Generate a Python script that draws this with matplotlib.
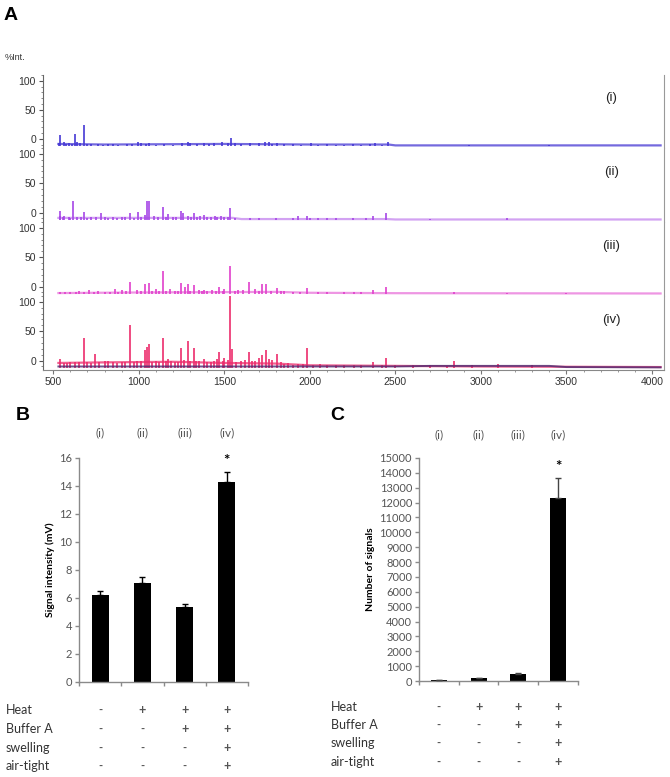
import matplotlib
matplotlib.use('Agg')
import matplotlib.pyplot as plt
from matplotlib.transforms import blended_transform_factory
from matplotlib.ticker import MultipleLocator

# ---- panel A: MALDI spectra (m/z, peak height above baseline in %)
mz_i = [532, 542, 562, 590, 625, 640, 679, 700, 760, 850, 930, 998, 1010, 1060, 1250, 1285,
        1300, 1440, 1484, 1541, 1560, 1650, 1738, 1760, 1808, 1900, 2007, 2150, 2300, 2381,
        2455, 2929, 3400]
int_i = [4, 19, 7, 4, 20, 6, 36, 3, 3, 3, 3, 6, 5, 4, 4, 7, 5, 4, 6, 13, 5, 4, 7, 6, 5, 3, 4,
         2, 2, 5, 7, 2, 1]
# small noise spikes along the baseline
nz_mz_i = [575, 610, 655, 720, 790, 820, 880, 960, 1040, 1100, 1150, 1200, 1340, 1380, 1410,
           1520, 1600, 1700, 1780, 1850, 1950, 2050, 2100, 2200, 2250, 2350, 2420]
nz_i = [3, 3, 4, 3, 2, 3, 2, 3, 3, 2, 3, 2, 3, 4, 3, 4, 3, 4, 3, 3, 2, 2, 3, 2, 3, 3, 2]
bg_mz_i = [530, 800, 1500, 2000, 2460, 2500, 4050]
bg_i = [3, 2, 3, 2, 2, 0.5, 0.5]

mz_ii = [537, 542, 562, 590, 617, 640, 679, 720, 781, 850, 900, 948, 998, 1036, 1048, 1060,
         1090, 1140, 1173, 1200, 1247, 1260, 1290, 1322, 1360, 1384, 1420, 1446, 1480, 1534,
         1700, 1932, 1982, 2100, 2250, 2368, 2443, 2700, 3153]
int_ii = [6, 14, 6, 5, 32, 5, 13, 5, 12, 4, 5, 11, 13, 8, 32, 32, 6, 22, 9, 5, 15, 12, 7, 12,
          6, 8, 5, 7, 6, 19, 2, 6, 7, 2, 2, 6, 11, 1, 2]
nz_mz_ii = [555, 600, 660, 700, 750, 800, 820, 870, 920, 970, 1015, 1110, 1160, 1220, 1305,
            1340, 1400, 1460, 1500, 1520, 1560, 1650, 1800, 1900, 2000, 2050, 2150, 2330]
nz_ii = [4, 3, 4, 3, 5, 4, 3, 3, 4, 3, 4, 5, 4, 5, 5, 4, 5, 4, 5, 4, 2, 2, 2, 3, 2, 2, 2, 2]
bg_mz_ii = [530, 1550, 1600, 2450, 2500, 4050]
bg_ii = [3, 3, 1, 1, 0.3, 0.3]

mz_iii = [537, 600, 650, 711, 760, 861, 900, 948, 990, 1036, 1060, 1100, 1140, 1180, 1247,
          1270, 1285, 1322, 1350, 1384, 1430, 1471, 1500, 1534, 1580, 1646, 1680, 1721, 1746,
          1808, 1850, 1982, 2100, 2256, 2368, 2443, 2842, 3153, 3500]
int_iii = [3, 3, 4, 7, 5, 8, 6, 20, 7, 17, 18, 8, 39, 8, 18, 12, 17, 14, 7, 7, 6, 11, 8, 47, 6,
           20, 8, 17, 16, 9, 4, 10, 2, 3, 6, 11, 3, 1, 1]
nz_mz_iii = [570, 630, 680, 740, 800, 830, 880, 925, 1015, 1080, 1120, 1160, 1210, 1230, 1300,
             1370, 1400, 1450, 1490, 1560, 1610, 1700, 1770, 1830, 1900, 1940, 2050, 2200, 2300]
nz_iii = [2, 3, 2, 3, 3, 2, 3, 4, 5, 4, 5, 4, 5, 4, 5, 5, 4, 5, 4, 5, 6, 5, 5, 4, 3, 3, 2, 2, 2]
bg_mz_iii = [530, 1000, 1800, 2000, 2500, 4050]
bg_iii = [1, 2, 3, 1.5, 0.8, 0.3]

mz_iv = [542, 580, 625, 679, 700, 742, 800, 850, 900, 948, 990, 1036, 1048, 1060, 1100, 1140,
         1173, 1210, 1247, 1285, 1322, 1350, 1384, 1420, 1471, 1500, 1534, 1545, 1600, 1646,
         1700, 1721, 1746, 1808, 1850, 1900, 1982, 2100, 2256, 2368, 2443, 2600, 2842, 2950,
         3100, 3300]
int_iv = [14, 8, 9, 50, 10, 23, 11, 9, 10, 73, 12, 30, 36, 41, 12, 51, 14, 10, 33, 45, 34, 12,
          14, 10, 26, 17, 122, 31, 12, 26, 17, 21, 30, 23, 7, 5, 34, 5, 5, 9, 17, 4, 11, 5, 6, 5]
nz_mz_iv = [560, 600, 650, 720, 770, 820, 870, 920, 970, 1010, 1075, 1120, 1160, 1190, 1230,
            1265, 1300, 1335, 1400, 1440, 1455, 1490, 1520, 1570, 1620, 1660, 1680, 1760, 1780,
            1830, 1870, 1930, 1960, 2020, 2060, 2150, 2200, 2300, 2420, 2500, 2700, 2800]
nz_iv = [8, 9, 10, 8, 9, 11, 8, 10, 9, 12, 10, 9, 11, 12, 10, 13, 11, 12, 10, 12, 14, 11, 13,
         10, 13, 11, 12, 14, 13, 10, 8, 6, 7, 5, 6, 5, 4, 4, 4, 4, 4, 3]
bg_mz_iv = [530, 800, 1200, 1500, 1800, 2000, 2500, 3000, 3500, 4050]
bg_iv = [8, 9, 10, 8, 7, 4, 3, 2, 1.5, 1]
dark_mz_iv = [530, 2500, 2700, 3000, 3400, 3500, 4050]
dark_iv = [2, 2, 3, 3, 3, 1, 0.5]

spectra = [
    ('(i)', mz_i + nz_mz_i, int_i + nz_i, bg_mz_i, bg_i, '#4638d4', 0.75),
    ('(ii)', mz_ii + nz_mz_ii, int_ii + nz_ii, bg_mz_ii, bg_ii, '#a646e6', 0.5),
    ('(iii)', mz_iii + nz_mz_iii, int_iii + nz_iii, bg_mz_iii, bg_iii, '#e040cc', 0.55),
    ('(iv)', mz_iv + nz_mz_iv, int_iv + nz_iv, bg_mz_iv, bg_iv, '#ec2c6c', 0.75),
]

# ---- panels B and C
conditions = ['(i)', '(ii)', '(iii)', '(iv)']
signal_mean = [6.25, 7.1, 5.35, 14.3]
signal_err = [0.25, 0.4, 0.2, 0.7]
count_mean = [60, 180, 480, 12300]
count_err = [20, 50, 80, 1350]
treatments = ['Heat', 'Buffer A', 'swelling', 'air-tight']
signs = [['-', '+', '+', '+'],
         ['-', '-', '+', '+'],
         ['-', '-', '-', '+'],
         ['-', '-', '-', '+']]

W, H = 670, 777
fig = plt.figure(figsize=(W / 100, H / 100), dpi=100)


def rect(x0, y0, x1, y1):
    # pixel box (top-left origin) -> figure fraction
    return [x0 / W, 1 - y1 / H, (x1 - x0) / W, (y1 - y0) / H]


arial = 'Liberation Sans'
calibri = ['Lato', 'DejaVu Sans']
base = -12

fig.text(4 / W, 1 - 15 / H, 'A', fontsize=14, fontweight='bold', family=arial, va='center')
fig.text(5 / W, 1 - 57 / H, '%Int.', fontsize=6.5, family=arial, va='center', color='#333333')

tops = [75, 148, 222, 296, 370]
for k, (lab, mz, inten, bmz, bint, col, balpha) in enumerate(spectra):
    ax = fig.add_axes(rect(43, tops[k], 664, tops[k + 1]))
    ax.set_xlim(440, 4070)
    ax.set_ylim(-16, 110)
    ax.plot(bmz, [base + b for b in bint], color=col, lw=1.6, alpha=balpha)
    ax.vlines(mz, base, [base + v for v in inten], color=col, lw=1.2)
    if k == 3:
        ax.plot(dark_mz_iv, [base + b for b in dark_iv], color='#4a2a70', lw=1.4, alpha=0.8)
    ax.text(0.915, 0.68, lab, transform=ax.transAxes, fontsize=9.5, family=arial,
            ha='center', va='center', color='#222222')
    ax.set_yticks([0, 50, 100])
    ax.yaxis.set_minor_locator(MultipleLocator(10))
    ax.tick_params(axis='y', which='major', length=3, width=0.8, labelsize=7.5,
                   colors='#555555', labelcolor='#333333', pad=2)
    ax.tick_params(axis='y', which='minor', length=1.5, width=0.6, colors='#777777')
    ax.spines['top'].set_visible(False)
    ax.spines['left'].set_color('#666666')
    ax.spines['left'].set_linewidth(0.8)
    ax.spines['right'].set_color('#999999')
    ax.spines['right'].set_linewidth(0.8)
    if k < 3:
        ax.spines['bottom'].set_visible(False)
        ax.set_xticks([])
    else:
        ax.spines['bottom'].set_color('#888888')
        ax.spines['bottom'].set_linewidth(0.8)
        ax.set_xticks(range(500, 4001, 500))
        ax.xaxis.set_minor_locator(MultipleLocator(100))
        ax.tick_params(axis='x', which='major', length=3, width=0.8, labelsize=7.5,
                       colors='#777777', labelcolor='#333333', pad=2)
        ax.tick_params(axis='x', which='minor', length=1.5, width=0.6, colors='#888888')
    for t in ax.get_yticklabels() + ax.get_xticklabels():
        t.set_family(arial)


def bar_panel(letter, letter_x, box, means, errs, ylim, step, ylabel, star_y, lab_y,
              row_ys, label_x, ecol):
    ax = fig.add_axes(rect(*box))
    x = range(len(means))
    ax.bar(x, means, width=0.4, color='black', zorder=2)
    ax.errorbar(x, means, yerr=[[0] * len(means), errs], fmt='none', ecolor=ecol,
                elinewidth=1.0, capsize=2.5, capthick=1.0, zorder=3)
    ax.set_xlim(-0.5, 3.5)
    ax.set_ylim(*ylim)
    ax.set_yticks(range(ylim[0], ylim[1] + 1, step))
    ax.set_xticks([-0.5, 0.5, 1.5, 2.5, 3.5])
    ax.set_xticklabels([])
    for s in ['top', 'right']:
        ax.spines[s].set_visible(False)
    for s in ['left', 'bottom']:
        ax.spines[s].set_color('#8a8a8a')
        ax.spines[s].set_linewidth(1.0)
    ax.tick_params(length=3, width=1.0, colors='#8a8a8a', labelcolor='#555555',
                   labelsize=8, pad=2)
    for t in ax.get_yticklabels():
        t.set_family(calibri)
    ax.set_ylabel(ylabel, fontsize=7.5, fontweight='bold', family=calibri, labelpad=3)
    tr = blended_transform_factory(ax.transData, fig.transFigure)
    for i, c in enumerate(conditions):
        ax.text(i, 1 - lab_y / H, c, transform=tr, ha='center', va='center', fontsize=8.5,
                family=calibri, color='#555555')
    ax.text(3, 1 - star_y / H, '*', transform=tr, ha='center', va='center', fontsize=11,
            fontweight='bold', family=calibri)
    for r, name in enumerate(treatments):
        fig.text(label_x / W, 1 - row_ys[r] / H, name, ha='left', va='center', fontsize=9,
                 family=calibri, color='#333333')
        for i in range(4):
            ax.text(i, 1 - row_ys[r] / H, signs[r][i], transform=tr, ha='center',
                    va='center', fontsize=9 if signs[r][i] == '+' else 8,
                    fontweight='bold', family=calibri, color='#555555')
    fig.text(letter_x / W, 1 - 415 / H, letter, fontsize=14, fontweight='bold', family=arial,
             va='center')
    return ax


bar_panel('B', 16, (79, 458, 248, 682), signal_mean, signal_err, (0, 16), 2,
          'Signal intensity (mV)', 461, 433, [710, 729, 748, 766], 6, 'black')
bar_panel('C', 330, (419, 458, 578, 681), count_mean, count_err, (0, 15000), 1000,
          'Number of signals', 467, 435, [707, 725, 743, 762], 331, '#444444')

fig.savefig('out.png', dpi=100)
